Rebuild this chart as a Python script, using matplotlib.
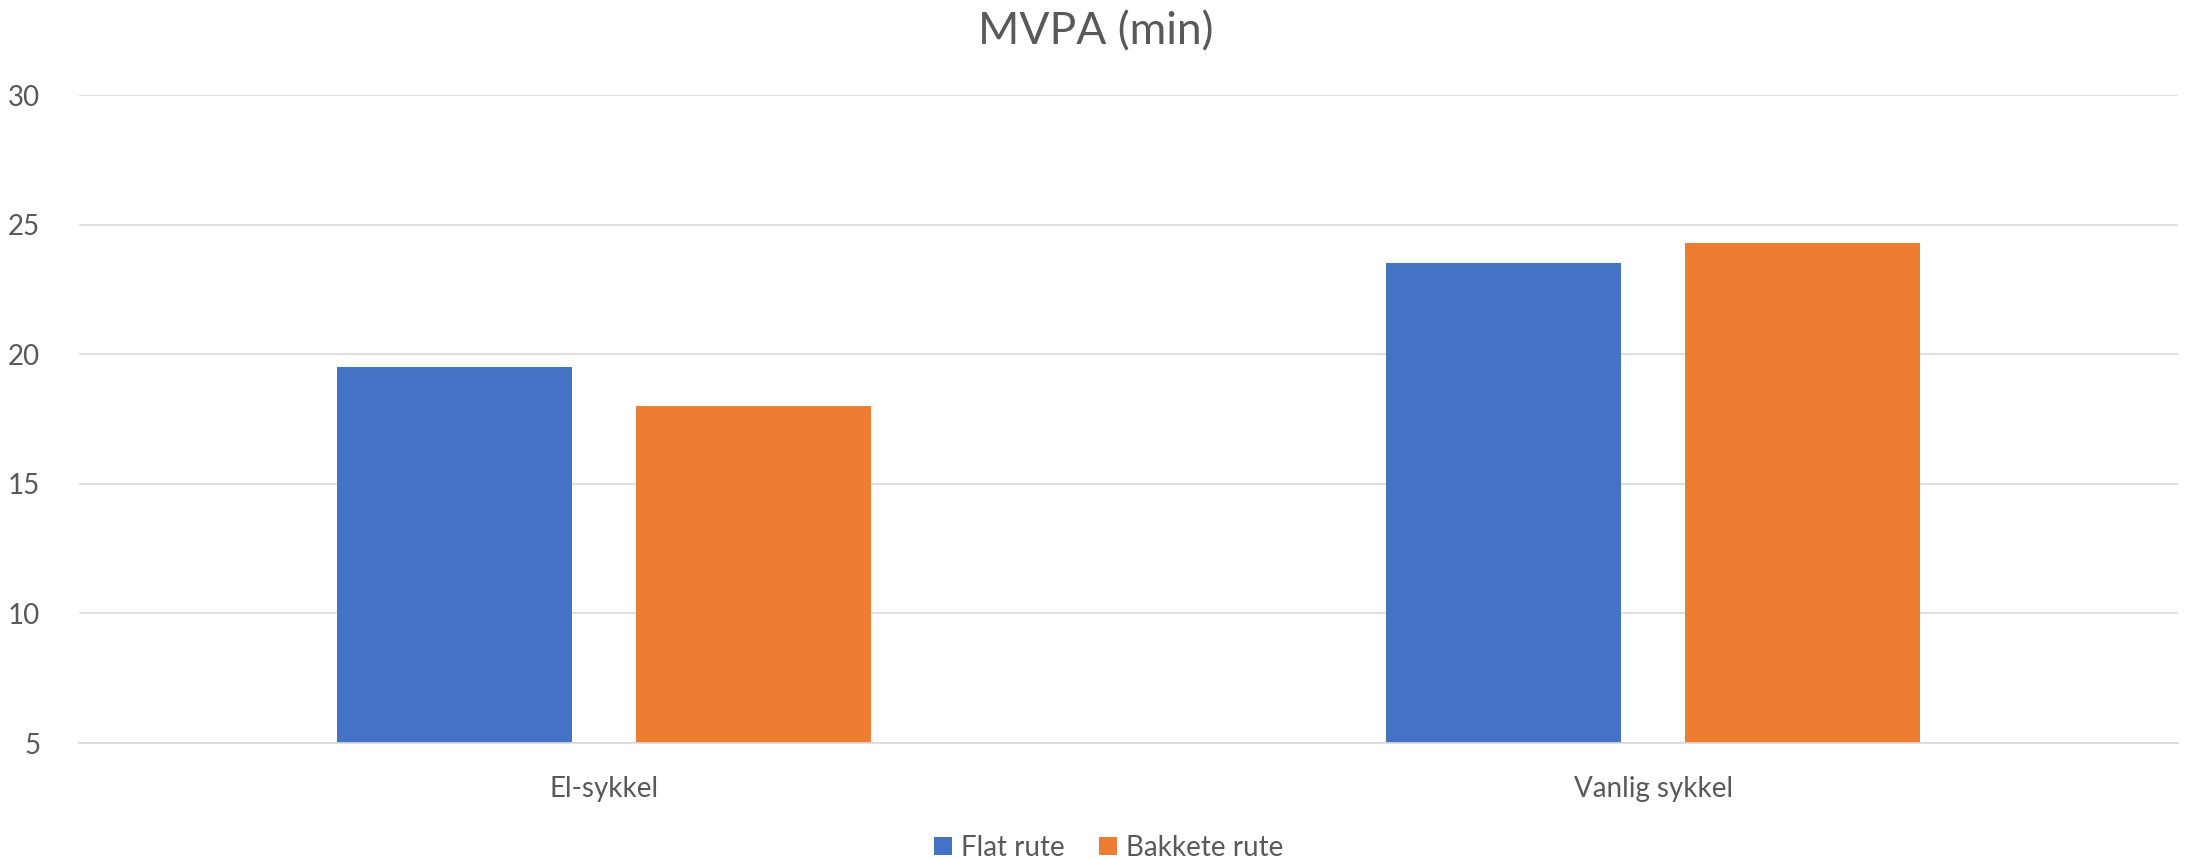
import numpy as np
import matplotlib
matplotlib.use('Agg')
import matplotlib.pyplot as plt

# data
categories = ['El-sykkel', 'Vanlig sykkel']
flat_rute = [19.5, 23.5]
bakkete_rute = [18.0, 24.3]
series_names = ['Flat rute', 'Bakkete rute']
y_ticks = [5, 10, 15, 20, 25, 30]

blue = '#4472C4'
orange = '#ED7D31'
text_col = '#595959'
grid_col = '#D9D9D9'

plt.rcParams['font.family'] = ['Lato', 'DejaVu Sans']

fig = plt.figure(figsize=(21.91, 8.59), dpi=100)
fig.patch.set_facecolor('white')
ax = fig.add_axes([0.0361, 0.135, 0.958, 0.7544])

x = np.arange(len(categories))
off = 0.1425
w = 0.224
ax.bar(x - off, flat_rute, w, bottom=0, color=blue, label=series_names[0], zorder=3)
ax.bar(x + off, bakkete_rute, w, bottom=0, color=orange, label=series_names[1], zorder=3)

ax.set_xlim(-0.5, len(categories) - 0.5)
ax.set_ylim(5, 30)
ax.set_yticks(y_ticks)
ax.set_xticks(x)
ax.set_xticklabels(categories)

ax.yaxis.grid(True, color=grid_col, linewidth=1.2, zorder=0)
ax.set_axisbelow(True)
for s in ['top', 'right', 'left']:
    ax.spines[s].set_visible(False)
ax.spines['bottom'].set_color(grid_col)
ax.spines['bottom'].set_linewidth(1.2)
ax.spines['bottom'].set_zorder(4)

ax.tick_params(axis='both', length=0, labelsize=20, labelcolor=text_col)
ax.tick_params(axis='y', pad=28)
ax.tick_params(axis='x', pad=24)

fig.suptitle('MVPA (min)', x=0.5, y=0.963, va='center', fontsize=32, color=text_col)

fig.legend(loc='center', bbox_to_anchor=(0.506, 0.013), ncol=2, frameon=False,
           fontsize=20, labelcolor=text_col, handlelength=0.65, handleheight=0.65,
           handletextpad=0.35, columnspacing=1.2)

fig.savefig('out.png', dpi=100, facecolor='white')
